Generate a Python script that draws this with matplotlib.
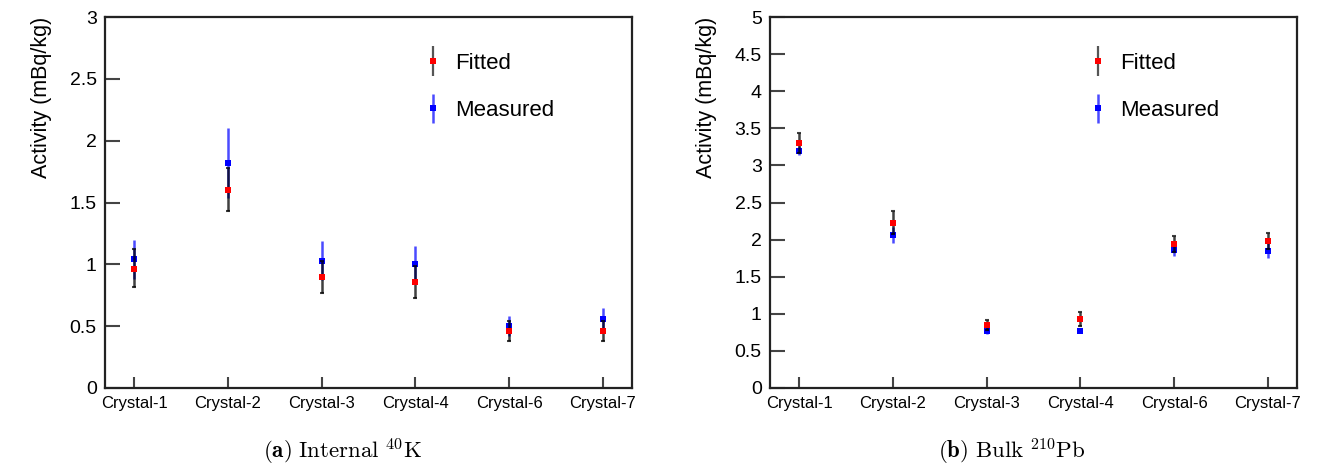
import matplotlib
matplotlib.use("Agg")
import matplotlib.pyplot as plt
from matplotlib.legend_handler import HandlerErrorbar
from matplotlib.container import ErrorbarContainer
import numpy as np

plt.rcParams['font.family'] = ['Liberation Sans', 'DejaVu Sans']
plt.rcParams['mathtext.fontset'] = 'cm'

crystals = ["Crystal-1", "Crystal-2", "Crystal-3", "Crystal-4", "Crystal-6", "Crystal-7"]

# Panel (a): Internal 40K
k40_fit = [0.96, 1.60, 0.90, 0.86, 0.46, 0.46]
k40_fit_lo = [0.14, 0.17, 0.13, 0.13, 0.08, 0.08]
k40_fit_hi = [0.16, 0.18, 0.13, 0.13, 0.08, 0.08]
k40_meas = [1.04, 1.82, 1.03, 1.00, 0.50, 0.56]
k40_meas_err = [0.16, 0.28, 0.16, 0.15, 0.08, 0.085]

# Panel (b): Bulk 210Pb
pb_fit = [3.30, 2.23, 0.85, 0.93, 1.94, 1.98]
pb_fit_err = [0.13, 0.15, 0.07, 0.09, 0.11, 0.11]
pb_meas = [3.20, 2.06, 0.77, 0.77, 1.865, 1.85]
pb_meas_err = [0.06, 0.11, 0.04, 0.03, 0.09, 0.10]

y_ticks_a = [0, 0.5, 1, 1.5, 2, 2.5, 3]
y_labels_a = ['0', '0.5', '1', '1.5', '2', '2.5', '3']
y_ticks_b = [0, 0.5, 1, 1.5, 2, 2.5, 3, 3.5, 4, 4.5, 5]
y_labels_b = ['0', '0.5', '1', '1.5', '2', '2.5', '3', '3.5', '4', '4.5', '5']

W, H = 1317, 472
fig = plt.figure(figsize=(W / 100, H / 100), dpi=100)
ax1 = fig.add_axes([105 / W, 1 - 388 / H, 527 / W, 371 / H])
ax2 = fig.add_axes([770 / W, 1 - 388 / H, 527 / W, 371 / H])

MS = 5.0


def draw(ax, fit, fit_err, meas, meas_err, ymax, yticks, ylabels):
    x = np.arange(len(crystals))
    hm = ax.errorbar(x, meas, yerr=meas_err, fmt='s', color='#0000ff', ecolor='#4a4aff',
                     elinewidth=1.8, capsize=1.5, capthick=1.5, markersize=MS,
                     markeredgewidth=0, label='Measured', zorder=3)
    ax.errorbar(x, fit, yerr=fit_err, fmt='none', ecolor='black', elinewidth=1.8,
                capsize=1.5, capthick=1.5, alpha=0.75, zorder=4)
    ax.plot(x, fit, 's', color='#ff0000', markersize=MS, markeredgewidth=0, zorder=5)
    hf_leg = ax.errorbar([], [], yerr=[], fmt='s', color='#ff0000', ecolor='#555555',
                         elinewidth=1.6, markersize=MS, markeredgewidth=0, label='Fitted')
    ax.legend([hf_leg, hm], ['Fitted', 'Measured'], loc='upper left',
              bbox_to_anchor=(0.584, 0.928), frameon=False, fontsize=16,
              handlelength=1.0, handletextpad=0.5, labelspacing=1.2, borderaxespad=0,
              handler_map={ErrorbarContainer: HandlerErrorbar(yerr_size=0.67)})
    ax.set_xlim(-0.31, 5.31)
    ax.set_ylim(0, ymax)
    ax.set_xticks(x)
    ax.set_xticklabels(crystals, fontsize=12)
    ax.set_yticks(yticks)
    ax.set_yticklabels(ylabels, fontsize=14)
    ax.tick_params(axis='y', direction='in', length=11, width=1.5, color='#444444', pad=6)
    ax.tick_params(axis='x', direction='in', length=8, width=1.5, color='#444444', pad=6)
    for s in ax.spines.values():
        s.set_linewidth(1.6)
        s.set_color('#222222')
    ax.set_ylabel('Activity (mBq/kg)', fontsize=15.5, loc='top')
    ax.yaxis.set_label_coords(-0.10, 1.0)


draw(ax1, k40_fit, [k40_fit_lo, k40_fit_hi], k40_meas, k40_meas_err, 3,
     y_ticks_a, y_labels_a)
draw(ax2, pb_fit, pb_fit_err, pb_meas, pb_meas_err, 5,
     y_ticks_b, y_labels_b)

fig.text(343 / W, 1 - 452 / H, r"$\mathbf{(a)}\ \mathrm{Internal}\ {}^{40}\mathrm{K}$",
         ha='center', va='center', fontsize=16.5)
fig.text(1012 / W, 1 - 452 / H, r"$\mathbf{(b)}\ \mathrm{Bulk}\ {}^{210}\mathrm{Pb}$",
         ha='center', va='center', fontsize=16.5)

fig.savefig('out.png', dpi=100)
